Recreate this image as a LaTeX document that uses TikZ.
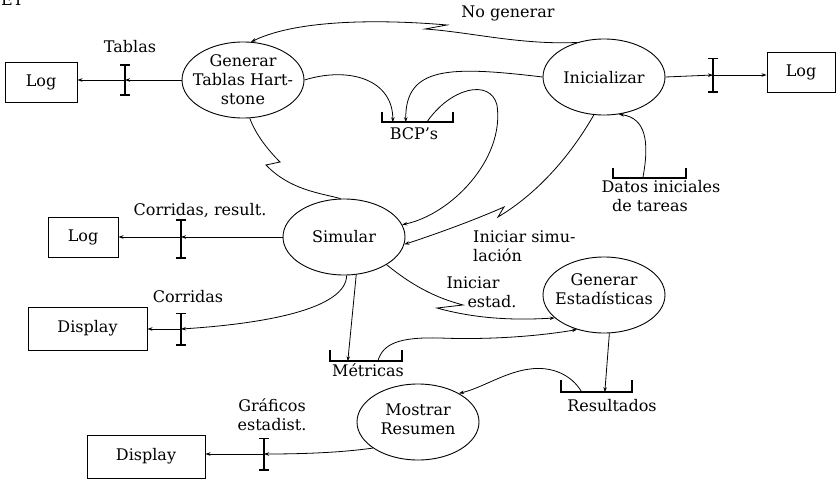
\documentclass[tikz,border=0pt]{standalone}
\usepackage{fontspec}
\setmainfont{DejaVu Serif}
\usetikzlibrary{shapes.geometric,arrows.meta}
\begin{document}
\begin{tikzpicture}[x=1pt,y=-1pt,
  every node/.style={font=\fontsize{16}{19}\selectfont},
  proc/.style={ellipse,draw,line width=0.9pt,minimum width=122pt,minimum height=76pt,inner sep=0pt},
  ptext/.style={align=center,inner sep=0pt},
  ext/.style={rectangle,draw,line width=0.9pt,inner sep=0pt},
  flow/.style={line width=0.8pt,-{Stealth[length=5pt,width=3.5pt]}},
  plainflow/.style={line width=0.8pt},
  barn/.style={inner sep=0pt,minimum width=9pt,minimum height=#1},
  barn/.default=32pt,
  barline/.style={line width=1.6pt},
  store/.style={inner sep=0pt,minimum height=10pt,minimum width=72pt},
  lbl/.style={inner sep=0pt}
]
\useasboundingbox (0,0) rectangle (836,482);

% fragment of text cut off at the top
\node[lbl,anchor=base west] (frag) at (1,5) {ET};

% processes
\node[proc] (gen) at (243,80) {};
\node[ptext] (gent) at (243,80) {Generar\\Tablas Hart-\\stone};
\node[proc] (ini) at (604,77) {};
\node[ptext] (init) at (604,78) {Inicializar};
\node[proc] (sim) at (344,237) {};
\node[ptext] (simt) at (344,237) {Simular};
\node[proc] (gst) at (604,295) {};
\node[ptext] (gstt) at (604,289) {Generar\\Estadísticas};
\node[proc] (mos) at (418,422) {};
\node[ptext] (most) at (418,419) {Mostrar\\Resumen};

% external entities
\node[ext,minimum width=72pt,minimum height=40pt] (log1) at (41,82) {Log};
\node[ext,minimum width=68pt,minimum height=40pt] (log2) at (801,72) {Log};
\node[ext,minimum width=70pt,minimum height=40pt] (log3) at (83,237) {Log};
\node[ext,minimum width=119pt,minimum height=43pt] (disp1) at (87.5,328.5) {Display};
\node[ext,minimum width=118pt,minimum height=43pt] (disp2) at (146,456.5) {Display};

% bars
\node[barn=30pt] (b1) at (125,80) {};
\node[barn=33pt] (b2) at (713,75) {};
\node[barn=38pt] (b3) at (181,239) {};
\node[barn=31pt] (b4) at (181,329) {};
\node[barn=31pt] (b5) at (264,454) {};
\foreach \b in {b1,b2,b3,b4,b5}
  \draw[barline] (\b.north west)--(\b.north east) (\b.north)--(\b.south) (\b.south west)--(\b.south east);

% stores
\node[store,minimum width=71pt] (bcp) at (417.5,117) {};
\node[store,minimum height=11pt] (met) at (366,355.5) {};
\node[store,minimum width=71pt,minimum height=12pt] (res) at (596.5,386) {};
\node[store,minimum width=73pt] (dat) at (649.5,173) {};
\foreach \s in {bcp,met,res,dat}
  \draw[barline] (\s.north west)--(\s.south west)--(\s.south east)--(\s.north east);

% labels
\node[lbl] (lt) at (130,47) {Tablas};
\node[lbl] (lng) at (508,13) {No generar};
\node[lbl] (lbcp) at (414,134) {BCP's};
\node[lbl] (ld1) at (661,187) {Datos iniciales};
\node[lbl] (ld2) at (650,206) {de tareas};
\node[lbl] (lcr) at (200,211) {Corridas, result.};
\node[lbl] (lc) at (188,297) {Corridas};
\node[lbl,align=left,anchor=west] (lis) at (473,246) {Iniciar simu-\\lación};
\node[lbl] (lie1) at (473,283) {Iniciar};
\node[lbl] (lie2) at (492,302) {estad.};
\node[lbl] (lmet) at (368,370) {Métricas};
\node[lbl] (lres) at (612,406) {Resultados};
\node[lbl,align=center] (lgr) at (272,415) {Gráficos\\estadist.};

% flows
\draw[flow] (gen.west) -- (b1.center);
\draw[flow] (b1.center) -- (log1.east |- b1.center);
\draw[flow] (ini.east) -- (b2.center);
\draw[flow] (b2.center) -- (log2.west |- b2.center);
\draw[flow] (sim.west) -- (b3.center |- sim.west);
\draw[flow] (b3.center |- sim.west) -- (log3.east |- sim.west);
\draw[flow] (sim.-86) .. controls (346,310) and (260,324) .. (b4.center);
\draw[flow] (b4.center) -- (disp1.east |- b4.center);
\draw[flow] (mos.-150) .. controls (345,452) and (310,454) .. (b5.center);
\draw[flow] (b5.center) -- (disp2.east |- b5.center);

% No generar
\draw[flow] (ini.128) .. controls (520,45) and (470,32) .. (425,29) -- (447,25)
  .. controls (390,20) and (300,18) .. (gen.78);
% Generar -> BCP
\draw[flow] (gen.east) .. controls (350,66) and (393,80) .. ([xshift=11pt]bcp.south west);
% Inicializar -> BCP
\draw[flow] (ini.west) .. controls (450,66) and (405,66) .. ([xshift=24pt]bcp.south west);
% BCP -> Simular
\draw[flow] ([xshift=45pt]bcp.south west) .. controls (450,88) and (490,78) .. (497,105)
  .. controls (505,160) and (450,215) .. (sim.12);
% Generar -- Simular
\draw[plainflow] (gen.-80) .. controls (256,135) and (268,150) .. (280,162) -- (266,165)
  .. controls (290,190) and (320,193) .. (sim.95);
% Datos -> Inicializar
\draw[flow] ([xshift=30pt]dat.south west) .. controls (650,140) and (645,118) .. (ini.-68);
% Iniciar simulacion
\draw[flow] (ini.-105) .. controls (565,165) and (530,198) .. (498,217) -- (504,207)
  .. controls (470,222) and (430,236) .. (sim.-7);
% Iniciar estad.
\draw[flow] (sim.-33) .. controls (420,292) and (445,300) .. (463,305) -- (437,308)
  .. controls (480,320) and (520,320) .. (gst.205);
% Simular -> Metricas
\draw[flow] (sim.-72) -- ([xshift=18pt]met.south west);
% Metricas -> Generar Estadisticas
\draw[flow] ([xshift=48pt]met.south west) .. controls (383,343) and (400,337) .. (440,338)
  .. controls (490,340) and (540,336) .. (gst.-128);
% Generar Estadisticas -> Resultados
\draw[flow] (gst.-82) -- ([xshift=44pt]res.south west);
% Resultados -> Mostrar
\draw[flow] ([xshift=21pt]res.south west) .. controls (572,375) and (552,366) .. (530,369)
  .. controls (505,372) and (482,388) .. (mos.35);
\end{tikzpicture}
\end{document}
